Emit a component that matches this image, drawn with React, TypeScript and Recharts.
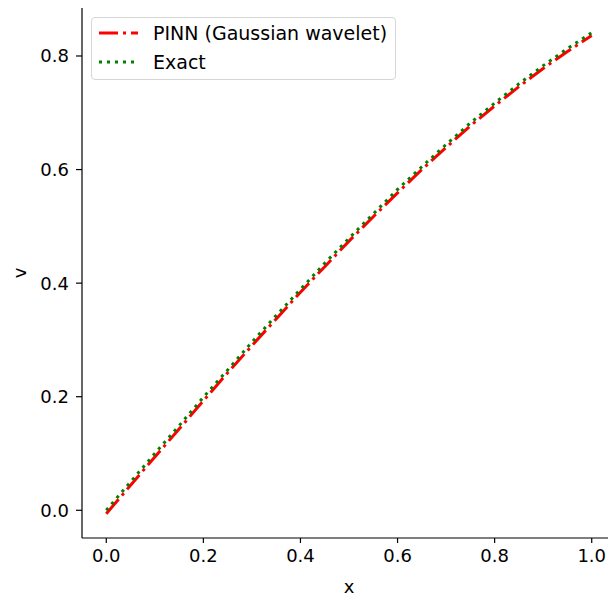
import React from 'react'
import { LineChart, Line, XAxis, YAxis, Legend } from 'recharts'

const xs = [0, 0.05, 0.1, 0.15, 0.2, 0.25, 0.3, 0.35, 0.4, 0.45, 0.5, 0.55, 0.6, 0.65, 0.7, 0.75, 0.8, 0.85, 0.9, 0.95, 1.0]
const pinn = [-0.006, 0.044, 0.094, 0.143, 0.193, 0.242, 0.290, 0.337, 0.384, 0.429, 0.474, 0.517, 0.559, 0.600, 0.639, 0.677, 0.712, 0.746, 0.778, 0.808, 0.836]
const exact = [0, 0.050, 0.100, 0.149, 0.199, 0.247, 0.296, 0.343, 0.389, 0.435, 0.479, 0.522, 0.565, 0.605, 0.644, 0.682, 0.717, 0.751, 0.783, 0.813, 0.841]
const xTicks = [0, 0.2, 0.4, 0.6, 0.8, 1.0]
const yTicks = [0, 0.2, 0.4, 0.6, 0.8]

const data = xs.map((x, i) => ({ x, pinn: pinn[i], exact: exact[i] }))

const FONT = '"DejaVu Sans", sans-serif'
const tickStyle = { fill: '#000', fontSize: 18, fontFamily: FONT }
const RED_DASH = '19 5 3 5'
const GREEN_DOT = '3 5'

const LegendBox = () => (
  <div style={{
    position: 'relative', width: 303, height: 61, background: '#fff',
    border: '1px solid #d6d6d6', borderRadius: 4, fontFamily: FONT, fontSize: 19, color: '#000',
  }}>
    <svg width={50} height={61} style={{ position: 'absolute', left: 0, top: 0 }}>
      <line x1={7} x2={46} y1={15} y2={15} stroke="#ff0000" strokeWidth={3} strokeDasharray={RED_DASH} />
      <line x1={7} x2={46} y1={44} y2={44} stroke="#008000" strokeWidth={3} strokeDasharray={GREEN_DOT} />
    </svg>
    <div style={{ position: 'absolute', left: 61, top: 3, lineHeight: '24px', whiteSpace: 'nowrap' }}>PINN (Gaussian wavelet)</div>
    <div style={{ position: 'absolute', left: 61, top: 32, lineHeight: '24px', whiteSpace: 'nowrap' }}>Exact</div>
  </div>
)

export default function App() {
  return (
    <div style={{ position: 'absolute', left: 0, top: 0, width: 608, height: 596, overflow: 'hidden', background: '#fff' }}>
      <LineChart width={640} height={596} data={data} margin={{ top: 8, right: 24, bottom: 0, left: 0 }}>
        <XAxis dataKey="x" type="number" domain={[-0.05, 1.05]} ticks={xTicks} allowDataOverflow
          tickFormatter={(v: number) => v.toFixed(1)} height={58} tick={tickStyle}
          tickSize={5} tickMargin={6} stroke="#000" strokeWidth={1.2}
          label={{ value: 'x', position: 'insideBottom', offset: 3, fill: '#000', fontSize: 18, fontFamily: FONT }} />
        <XAxis xAxisId="top" dataKey="x" type="number" domain={[-0.05, 1.05]} orientation="top" height={0}
          tick={false} tickLine={false} stroke="#000" strokeWidth={1.2} />
        <YAxis type="number" domain={[-0.0488, 0.8845]} ticks={yTicks} allowDataOverflow width={82}
          tickFormatter={(v: number) => v.toFixed(1)} tick={tickStyle}
          tickSize={6} tickMargin={7} stroke="#000" strokeWidth={1.2} />
        <Legend layout="vertical" align="center" verticalAlign="middle" content={<LegendBox />}
          wrapperStyle={{ position: 'absolute', left: 91, top: 17, width: 'auto' }} />
        <Line dataKey="pinn" name="PINN (Gaussian wavelet)" type="linear" stroke="#ff0000" strokeWidth={3}
          strokeDasharray={RED_DASH} dot={false} isAnimationActive={false} />
        <Line dataKey="exact" name="Exact" type="linear" stroke="#008000" strokeWidth={3}
          strokeDasharray={GREEN_DOT} dot={false} isAnimationActive={false} />
      </LineChart>
      {/* y axis title, rotated like matplotlib's ylabel */}
      <div style={{
        position: 'absolute', left: 20, top: 273, transform: 'translate(-50%, -50%) rotate(-90deg)',
        fontFamily: FONT, fontSize: 18, lineHeight: '18px', color: '#000',
      }}>v</div>
    </div>
  )
}
